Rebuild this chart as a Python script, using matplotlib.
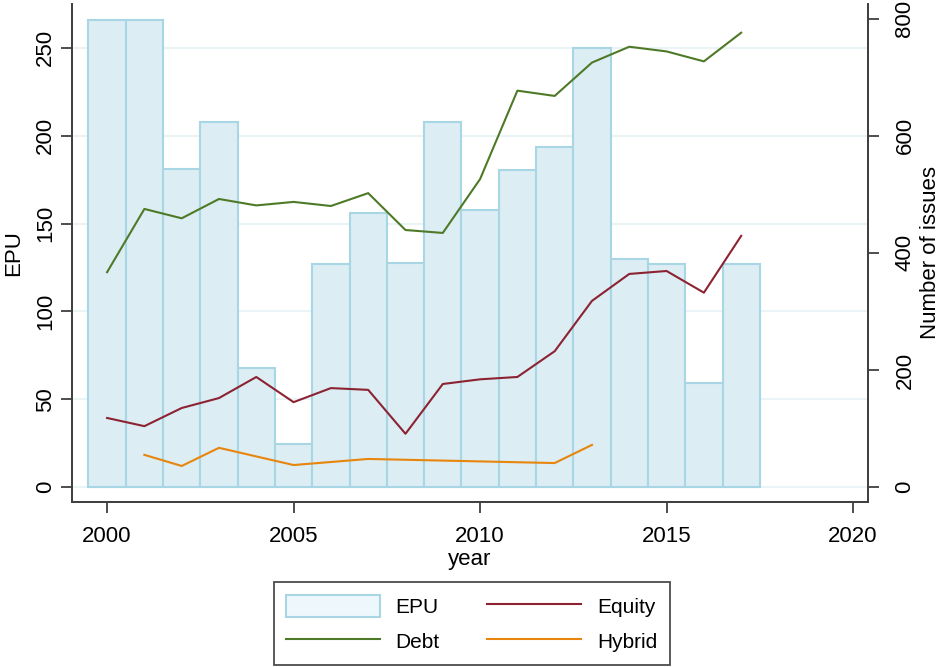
import matplotlib
matplotlib.use("Agg")
import matplotlib.pyplot as plt
from matplotlib.patches import Patch
from matplotlib.lines import Line2D

plt.rcParams["font.family"] = ["Liberation Sans", "DejaVu Sans"]

# EPU bars (left axis)
years = list(range(2000, 2018))
epu = [266, 266, 181, 208, 68, 24.5, 127, 156, 127.5, 208,
       158, 180.5, 193.6, 250, 130, 127, 59, 127]

# Number of issues (right axis)
debt = [367, 475, 459, 492, 481, 487, 480, 502, 439, 434,
        526, 677, 668, 725, 752, 744, 727, 776]
equity = [118, 104, 135, 152, 188, 145, 169, 166, 91, 176,
          184, 188, 232, 318, 364, 369, 332, 429]
hybrid_years = [2001, 2002, 2003, 2005, 2007, 2012, 2013]
hybrid = [55, 36, 67, 37.6, 48, 41, 72]

BAR_FILL = "#dcedf4"
BAR_EDGE = "#a9d6e5"
DEBT_C = "#4e7a27"
EQUITY_C = "#8c2332"
HYBRID_C = "#e8850c"
AXIS_C = "#404040"

fig = plt.figure(figsize=(9.44, 6.67), dpi=100)
ax = fig.add_axes([0.0763, 0.2474, 0.8432, 0.7466])
ax2 = ax.twinx()

ax.set_axisbelow(True)
ax.yaxis.grid(True, color="#eaf3f6", linewidth=1.5)
ax.bar(years, epu, width=1.0, color=BAR_FILL, edgecolor=BAR_EDGE, linewidth=1.5, zorder=2)

ax2.plot(years, debt, color=DEBT_C, linewidth=1.5)
ax2.plot(years, equity, color=EQUITY_C, linewidth=1.5)
ax2.plot(hybrid_years, hybrid, color=HYBRID_C, linewidth=1.5)

ax.set_xlim(1999.06, 2020.4)
ax.set_ylim(-8.5, 275)
ax2.set_ylim(-25.5, 825)

ax.set_xticks([2000, 2005, 2010, 2015, 2020])
ax.set_yticks([0, 50, 100, 150, 200, 250])
ax2.set_yticks([0, 200, 400, 600, 800])

for a in (ax, ax2):
    a.spines["top"].set_visible(False)
    for s in ("left", "right", "bottom"):
        a.spines[s].set_color(AXIS_C)
        a.spines[s].set_linewidth(1.3)
    a.tick_params(colors=AXIS_C, labelcolor="black", length=8, width=1.3, labelsize=16)
ax.tick_params(axis="x", pad=9)
ax2.tick_params(axis="y", pad=11)

for lbl in ax.get_yticklabels():
    lbl.set_rotation(90)
    lbl.set_va("center")
for lbl in ax2.get_yticklabels():
    lbl.set_rotation(90)
    lbl.set_va("center")

ax.set_xlabel("year", fontsize=16, labelpad=2)
ax.set_ylabel("EPU", fontsize=16, labelpad=8)
ax2.set_ylabel("Number of issues", fontsize=16, labelpad=3)

handles = [
    Patch(facecolor="#eef8fc", edgecolor=BAR_EDGE, linewidth=1.5),
    Line2D([], [], color=DEBT_C, linewidth=1.5),
    Line2D([], [], color=EQUITY_C, linewidth=1.5),
    Line2D([], [], color=HYBRID_C, linewidth=1.5),
]
labels = ["EPU", "Debt", "Equity", "Hybrid"]
leg = fig.legend(handles, labels, ncol=2, loc="center", bbox_to_anchor=(0.4995, 0.065),
                 fontsize=15, frameon=True, fancybox=False, edgecolor="#202020",
                 handlelength=4.5, handleheight=1.3, handletextpad=0.75,
                 columnspacing=2.3, labelspacing=0.6, borderpad=0.6)
leg.get_frame().set_linewidth(1.3)

fig.savefig("out.png", dpi=100)
